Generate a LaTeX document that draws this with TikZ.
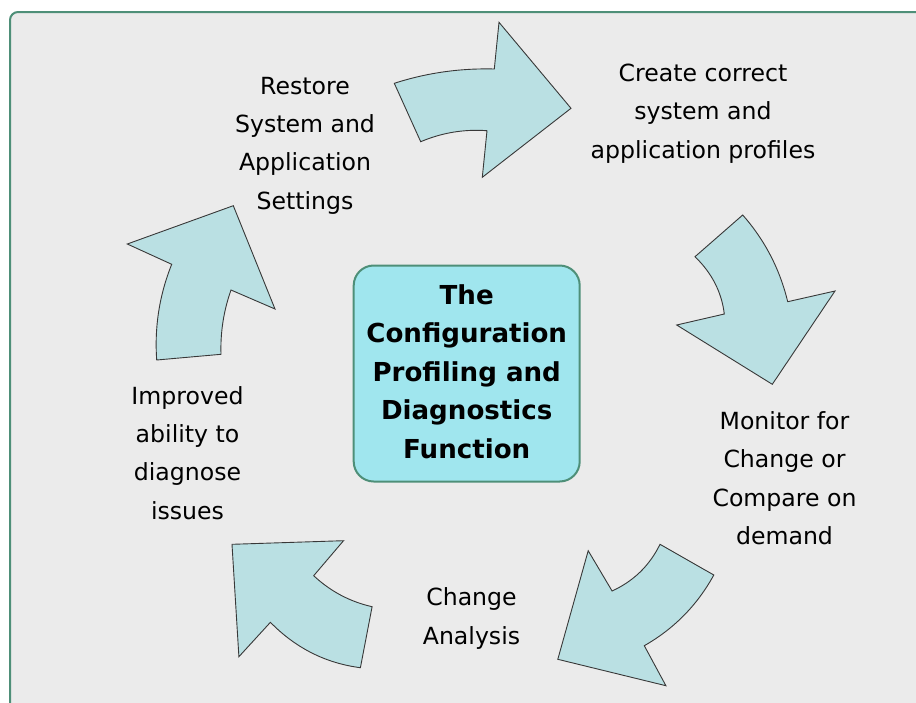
\documentclass[tikz,border=0pt]{standalone}
\usepackage{fontspec}
\setmainfont{DejaVu Sans}
\definecolor{bgfill}{HTML}{EBEBEB}
\definecolor{framecol}{HTML}{4E8F78}
\definecolor{arrowfill}{HTML}{BAE0E3}
\definecolor{hubfill}{HTML}{A0E6EE}
\tikzset{
  lbl/.style={align=center, inner sep=0pt, font=\fontsize{23.6}{38.4}\selectfont},
  cyclearrow/.style={fill=arrowfill, draw=black!78, line width=0.9pt, line join=miter},
  hub/.style={draw=framecol, line width=2pt, fill=hubfill, rounded corners=20pt,
    minimum width=226pt, minimum height=216pt, inner sep=0pt, align=center,
    font=\fontsize{26.1}{38.5}\selectfont\bfseries},
  outerframe/.style={draw=framecol, line width=2pt, fill=bgfill, rounded corners=8pt}
}
\begin{document}
\begin{tikzpicture}[x=1pt, y=-1pt]
\useasboundingbox (0,0) rectangle (916,702);
\clip (0,0) rectangle (916,702);
\draw[outerframe] (10,12) rectangle (960,760);

% arrows
\draw[cyclearrow] (394.3,83.3) -- (420.7,141.7)
  .. controls (442,132.7) and (464.1,129) .. (487,130.7)
  -- (482.3,177.3) -- (571,108.3) -- (499,22.3) -- (494.3,69)
  .. controls (460.2,68.1) and (426.8,72.8) .. (394.3,83.3) -- cycle;
\draw[cyclearrow] (695,256.7) -- (742.7,215)
  .. controls (764.8,240.1) and (779.8,269) .. (787.7,301.7)
  -- (835,291) -- (772.3,384.3) -- (676.7,325) -- (724.3,314)
  .. controls (721.7,292.2) and (711.9,273.1) .. (695,256.7) -- cycle;
\draw[cyclearrow] (660,544.3) -- (713.8,575)
  .. controls (697.3,605.1) and (674.1,628.7) .. (644.3,645.7)
  -- (665.9,685.7) -- (557.8,659.3) -- (588.2,550.7) -- (612.1,591)
  .. controls (633.6,581.1) and (649.6,565.6) .. (660,544.3) -- cycle;
\draw[cyclearrow] (232,544.3) -- (343.5,540.7) -- (313.7,575.7)
  .. controls (330.5,591.4) and (350,601.7) .. (372.1,606.7) -- (360.4,667.7)
  .. controls (325.7,663.2) and (295.7,648.1) .. (270.4,622.3) -- (238.9,656.7) -- cycle;
\draw[cyclearrow] (156.7,360) -- (221,354.3)
  .. controls (220.3,332.1) and (223.7,310.7) .. (231,290)
  -- (275,309) -- (233.3,205.7) -- (127.3,244) -- (171.7,264.3)
  .. controls (159.4,295) and (154.4,326.9) .. (156.7,360) -- cycle;

% labels
\node[lbl] (restore) at (305,144.1) {\strut Restore\\\strut System and\\\strut Application\\\strut Settings};
\node[lbl] (create) at (703,112.3) {\strut Create correct\\\strut system and\\\strut application profiles};
\node[lbl] (monitor) at (784.5,479.5) {\strut Monitor for\\\strut Change or\\\strut Compare on\\\strut demand};
\node[lbl] (change) at (471.5,617.3) {\strut Change\\\strut Analysis};
\node[lbl] (improved) at (187.5,454) {\strut Improved\\\strut ability to\\\strut diagnose\\\strut issues};

\node[hub] (hubnode) at (466.7,373.5) {\strut The\\\strut Configuration\\\strut Profiling and\\\strut Diagnostics\\\strut Function};
\end{tikzpicture}
\end{document}
